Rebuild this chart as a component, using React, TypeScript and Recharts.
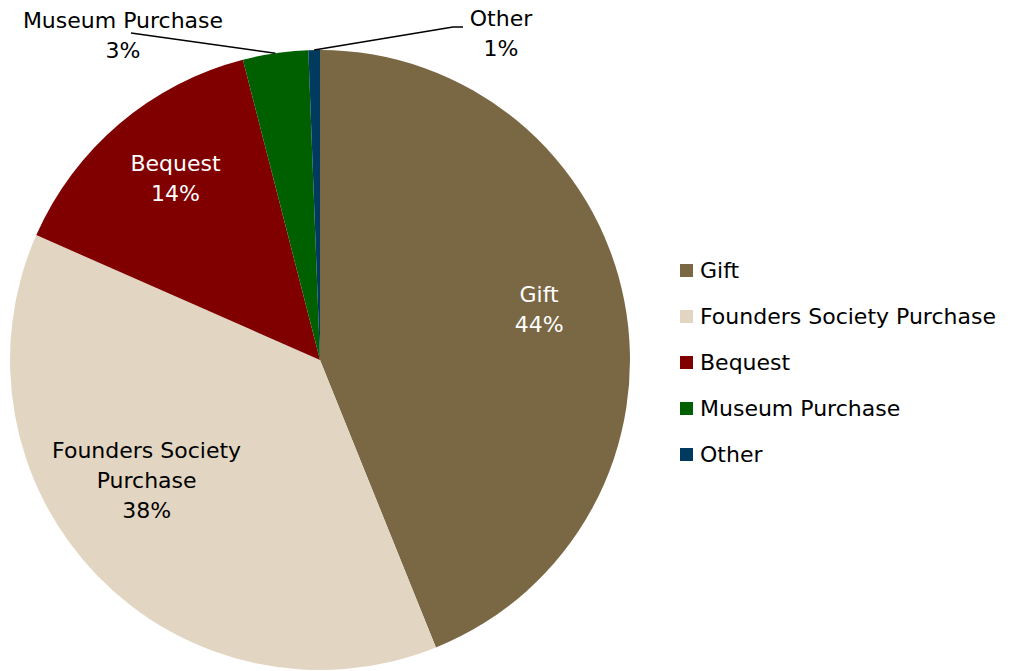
import React from 'react';
import { PieChart, Pie, Cell, Legend } from 'recharts';

// acquisition method shares (percent of collection)
const categories = ['Gift', 'Founders Society Purchase', 'Bequest', 'Museum Purchase', 'Other'];
const shares = [43.9, 37.7, 14.4, 3.4, 0.6];
const percentLabels = ['44%', '38%', '14%', '3%', '1%'];
const colors = ['#7A6744', '#E2D6C3', '#800000', '#006000', '#003A5E'];

const data = categories.map((name, i) => ({ name, value: shares[i] }));

const FONT = '"DejaVu Sans", sans-serif';
const RAD = Math.PI / 180;

// inside label placement: fraction of radius + small nudge
const insideCfg: Record<number, { r: number; dx: number; dy: number; fill: string; lines: string[] }> = {
  0: { r: 0.72, dx: 0, dy: -8, fill: '#ffffff', lines: ['Gift'] },
  1: { r: 0.68, dx: -22, dy: -27, fill: '#000000', lines: ['Founders Society', 'Purchase'] },
  2: { r: 0.75, dx: 6, dy: -5, fill: '#ffffff', lines: ['Bequest'] },
};

const renderLabel = (props: any) => {
  const { cx, cy, midAngle, outerRadius, index } = props;
  const cfg = insideCfg[index];
  if (cfg) {
    const r = outerRadius * cfg.r;
    const x = cx + r * Math.cos(-midAngle * RAD) + cfg.dx;
    const y = cy + r * Math.sin(-midAngle * RAD) + cfg.dy;
    const lines = [...cfg.lines, percentLabels[index]];
    const top = y - ((lines.length - 1) * 30) / 2;
    return (
      <text x={x} y={top} fill={cfg.fill} textAnchor="middle" dominantBaseline="central"
        fontFamily={FONT} fontSize={22}>
        {lines.map((l, k) => (
          <tspan key={k} x={x} y={top + k * 30}>{l}</tspan>
        ))}
      </text>
    );
  }
  // outside labels with leader lines
  const ex = cx + outerRadius * Math.cos(-midAngle * RAD);
  const ey = cy + outerRadius * Math.sin(-midAngle * RAD);
  if (index === 3) {
    const tx = cx - 197;
    const ty = cy - 340;
    return (
      <g>
        <polyline points={`${tx + 8},${ty + 13} ${ex},${ey}`} stroke="#000" strokeWidth={1.5} fill="none" />
        <text x={tx} y={ty} textAnchor="middle" dominantBaseline="central" fontFamily={FONT} fontSize={22}>
          <tspan x={tx} y={ty}>Museum Purchase</tspan>
          <tspan x={tx} y={ty + 30}>{percentLabels[index]}</tspan>
        </text>
      </g>
    );
  }
  const tx = cx + 181;
  const ty = cy - 342;
  return (
    <g>
      <polyline points={`${ex},${ey} ${tx - 48},${ty + 9} ${tx - 38},${ty + 9}`} stroke="#000" strokeWidth={1.5} fill="none" />
      <text x={tx} y={ty} textAnchor="middle" dominantBaseline="central" fontFamily={FONT} fontSize={22}>
        <tspan x={tx} y={ty}>Other</tspan>
        <tspan x={tx} y={ty + 30}>{percentLabels[index]}</tspan>
      </text>
    </g>
  );
};

const LegendContent = () => (
  <div style={{ fontFamily: FONT, fontSize: 22, color: '#000' }}>
    {categories.map((c, i) => (
      <div key={c} style={{ display: 'flex', alignItems: 'center', height: 46 }}>
        <span style={{ width: 13, height: 13, background: colors[i], marginRight: 7, display: 'inline-block' }} />
        <span>{c}</span>
      </div>
    ))}
  </div>
);

export default function App() {
  return (
    <div style={{ position: 'absolute', left: 0, top: 0, width: 1010, height: 671, background: '#fff' }}>
      <PieChart width={1010} height={671} margin={{ top: 0, right: 0, bottom: 0, left: 0 }}>
        <Pie
          data={data}
          dataKey="value"
          nameKey="name"
          cx={320}
          cy={360}
          outerRadius={310}
          startAngle={90}
          endAngle={-270}
          stroke="none"
          label={renderLabel}
          labelLine={false}
          isAnimationActive={false}
        >
          {data.map((d, i) => (
            <Cell key={d.name} fill={colors[i]} />
          ))}
        </Pie>
        <Legend
          content={<LegendContent />}
          wrapperStyle={{ position: 'absolute', left: 680, top: 247, width: 330 }}
        />
      </PieChart>
    </div>
  );
}
